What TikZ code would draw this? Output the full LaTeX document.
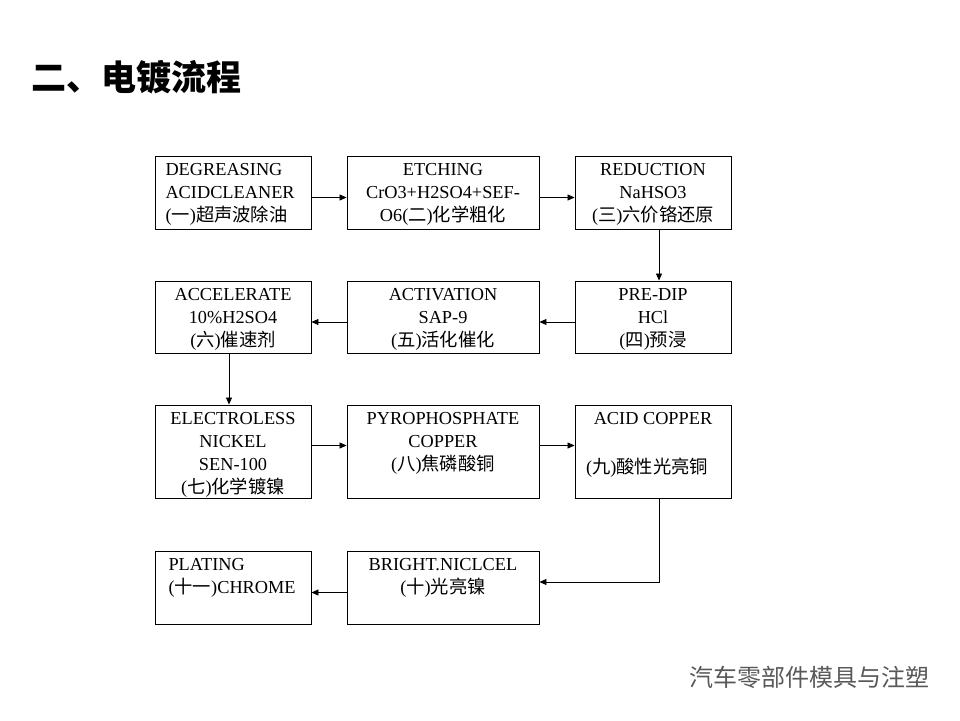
\documentclass[tikz,border=0pt]{standalone}
\usepackage{fontspec}
\setmainfont{Liberation Serif}
\newfontfamily\cjk{Noto Sans CJK SC}
\usetikzlibrary{arrows.meta}
\begin{document}
\begin{tikzpicture}[x=1pt,y=-1pt,
  box/.style={draw,line width=0.9pt,inner sep=0pt},
  txt/.style={font=\fontsize{18.3}{23}\selectfont,align=center},
  arr/.style={-{Triangle[length=7pt,width=6pt]},line width=0.8pt}]
\useasboundingbox (0,0) rectangle (960,720);
\fill[white] (0,0) rectangle (960,720);
\node[font=\cjk\bfseries\fontsize{35}{40}\selectfont,anchor=west] (title) at (28,77) {二、电镀流程};
% boxes
\node[box,minimum width=156pt,minimum height=73pt] (a) at (233,192.5) {};
\node[box,minimum width=192pt,minimum height=73pt] (b) at (443,192.5) {};
\node[box,minimum width=156pt,minimum height=73pt] (c) at (653,192.5) {};
\node[box,minimum width=156pt,minimum height=72pt] (f) at (233,317) {};
\node[box,minimum width=192pt,minimum height=72pt] (e) at (443,317) {};
\node[box,minimum width=156pt,minimum height=72pt] (d) at (653,317) {};
\node[box,minimum width=156pt,minimum height=93pt] (g) at (233,451.5) {};
\node[box,minimum width=192pt,minimum height=93pt] (h) at (443,451.5) {};
\node[box,minimum width=156pt,minimum height=93pt] (i) at (653,451.5) {};
\node[box,minimum width=156pt,minimum height=73pt] (k) at (233,587.5) {};
\node[box,minimum width=192pt,minimum height=73pt] (j) at (443,587.5) {};
% texts
\node[txt,align=left,anchor=north west] (ta) at (162,160) {DEGREASING\\ACIDCLEANER\\({\cjk 一}){\cjk 超声波除油}};
\node[txt,anchor=north] (tb) at (443,160) {ETCHING\\CrO3+H2SO4+SEF-\\O6({\cjk 二}){\cjk 化学粗化}};
\node[txt,anchor=north] (tc) at (653,160) {REDUCTION\\NaHSO3\\({\cjk 三}){\cjk 六价铬还原}};
\node[txt,anchor=north] (td) at (653,285) {PRE-DIP\\HCl\\({\cjk 四}){\cjk 预浸}};
\node[txt,anchor=north] (te) at (443,285) {ACTIVATION\\SAP-9\\({\cjk 五}){\cjk 活化催化}};
\node[txt,anchor=north] (tf) at (233,285) {ACCELERATE\\10\%H2SO4\\({\cjk 六}){\cjk 催速剂}};
\node[txt,anchor=north] (tg) at (233,409) {ELECTROLESS\\NICKEL\\SEN-100\\({\cjk 七}){\cjk 化学镀镍}};
\node[txt,anchor=north] (th) at (443,409) {PYROPHOSPHATE\\COPPER\\({\cjk 八}){\cjk 焦磷酸铜}};
\node[txt,anchor=north] (ti1) at (653,409) {ACID COPPER};
\node[txt,anchor=north] (ti2) at (647,454) {({\cjk 九}){\cjk 酸性光亮铜}};
\node[txt,anchor=north] (tj) at (443,555) {BRIGHT.NICLCEL\\({\cjk 十}){\cjk 光亮镍}};
\node[txt,align=left,anchor=north west] (tk) at (165,555) {PLATING\\({\cjk 十一})CHROME};
% arrows
\draw[arr] ([yshift=-5pt]a.east) -- ([yshift=-5pt]b.west);
\draw[arr] ([yshift=-5pt]b.east) -- ([yshift=-5pt]c.west);
\draw[arr] ([xshift=6pt]c.south) -- ([xshift=6pt]d.north);
\draw[arr] ([yshift=-5pt]d.west) -- ([yshift=-5pt]e.east);
\draw[arr] ([yshift=-5pt]e.west) -- ([yshift=-5pt]f.east);
\draw[arr] ([xshift=-4pt]f.south) -- ([xshift=-4pt]g.north);
\draw[arr] ([yshift=6pt]g.east) -- ([yshift=6pt]h.west);
\draw[arr] ([yshift=6pt]h.east) -- ([yshift=6pt]i.west);
\coordinate (bend) at (659,582);
\draw[arr] (i.south -| bend) -- (bend) -- (bend -| j.east);
\draw[arr] ([yshift=-5pt]j.west) -- ([yshift=-5pt]k.east);
% watermark
\node[font=\cjk\fontsize{24}{28}\selectfont,text=black!65,anchor=west] (wm) at (686,677) {汽车零部件模具与注塑};
\end{tikzpicture}
\end{document}
